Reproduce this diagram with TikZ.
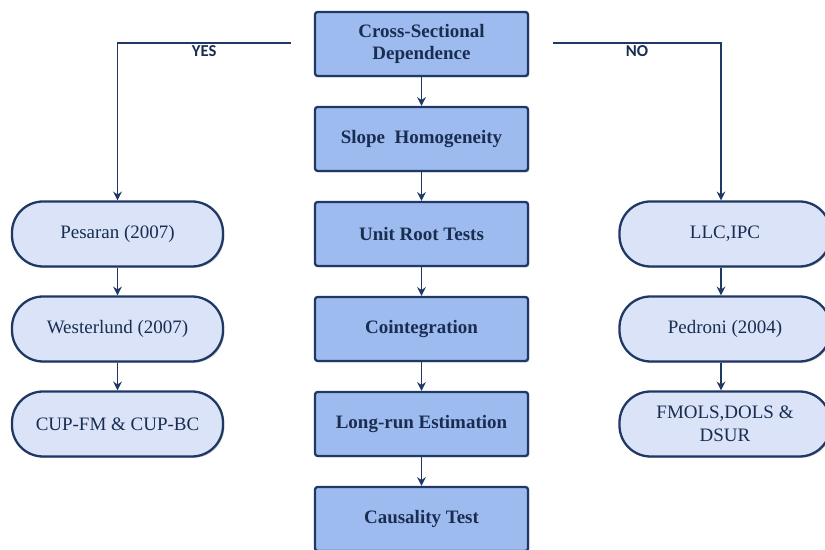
\documentclass[tikz,border=0pt]{standalone}
\usepackage{fontspec}
\setmainfont{Liberation Serif}
\newfontfamily\timesfont{Liberation Serif}
\newfontfamily\yesnofont{Carlito}
\usepackage{tikz}
\usetikzlibrary{arrows.meta, shadows}

\definecolor{navy}{RGB}{31,56,100}
\definecolor{boxblue}{RGB}{158,187,240}
\definecolor{capblue}{RGB}{218,227,247}

\begin{document}
\begin{tikzpicture}[
    stage/.style={
        rectangle, draw=navy, line width=1.3pt, fill=boxblue,
        rounded corners=1.5pt,
        minimum width=4.26cm, minimum height=1.28cm,
        inner sep=2pt, align=center, text=navy!80!black,
        font=\timesfont\fontsize{10.8}{13}\selectfont\bfseries,
        drop shadow={shadow xshift=0.8pt, shadow yshift=-0.8pt, opacity=0.35}},
    method/.style={
        rectangle, draw=navy, line width=1.3pt, fill=capblue,
        rounded corners=0.62cm,
        minimum width=4.22cm, minimum height=1.3cm,
        inner sep=2pt, align=center, text=navy!80!black,
        font=\timesfont\fontsize{10.8}{13}\selectfont,
        drop shadow={shadow xshift=0.8pt, shadow yshift=-0.8pt, opacity=0.35}},
    answer/.style={
        font=\yesnofont\fontsize{9.5}{11}\selectfont\bfseries,
        text=navy!80!black, inner sep=1pt},
    arr/.style={-{Stealth[length=5pt, width=5pt]}, draw=navy, line width=0.9pt}
]
\useasboundingbox (0,0) rectangle (16.5,11);

%% ── Main sequence (centre column) ───────────────────────────────
\node[stage] (csd)   at (8.43,10.12) {Cross-Sectional\\Dependence};
\node[stage] (slope) at (8.43, 8.22) {Slope~ Homogeneity};
\node[stage] (unit)  at (8.43, 6.32) {Unit Root Tests};
\node[stage] (coint) at (8.43, 4.42) {Cointegration};
\node[stage] (lrun)  at (8.43, 2.52) {Long-run Estimation};
\node[stage] (caus)  at (8.43, 0.62) {Causality Test};

%% ── With cross-sectional dependence (left column) ───────────────
\node[method] (pes)  at (2.35, 6.32) {Pesaran (2007)};
\node[method] (west) at (2.35, 4.42) {Westerlund (2007)};
\node[method] (cup)  at (2.35, 2.52) {CUP-FM \& CUP-BC};

%% ── Without cross-sectional dependence (right column) ───────────
\node[method] (llc)  at (14.5, 6.32) {LLC,IPC};
\node[method] (ped)  at (14.5, 4.42) {Pedroni (2004)};
\node[method] (fmol) at (14.5, 2.52) {FMOLS,DOLS \&\\DSUR};

%% ── Branch start points ─────────────────────────────────────────
\coordinate (yesstart) at ([xshift=-0.46cm, yshift=0.02cm]csd.west);
\coordinate (nostart)  at ([xshift=0.48cm, yshift=0.02cm]csd.east);

%% ── Arrows: centre column ───────────────────────────────────────
\draw[arr] (csd)   -- (slope);
\draw[arr] (slope) -- (unit);
\draw[arr] (unit)  -- (coint);
\draw[arr] (coint) -- (lrun);
\draw[arr] (lrun)  -- (caus);

%% ── Branches: YES / NO ──────────────────────────────────────────
\draw[arr, line width=1.1pt] (yesstart) -| node[answer, pos=0.25, below] {YES}
    (pes.north);
\draw[arr, line width=1.1pt] (nostart) -| node[answer, pos=0.25, below] {NO}
    ([xshift=-0.08cm]llc.north);

%% ── Arrows: side columns ────────────────────────────────────────
\draw[arr] (pes)  -- (west);
\draw[arr] (west) -- (cup);
\draw[arr] ([xshift=-0.08cm]llc.south) -- ([xshift=-0.08cm]ped.north);
\draw[arr] ([xshift=-0.08cm]ped.south) -- ([xshift=-0.08cm]fmol.north);

\end{tikzpicture}
\end{document}
